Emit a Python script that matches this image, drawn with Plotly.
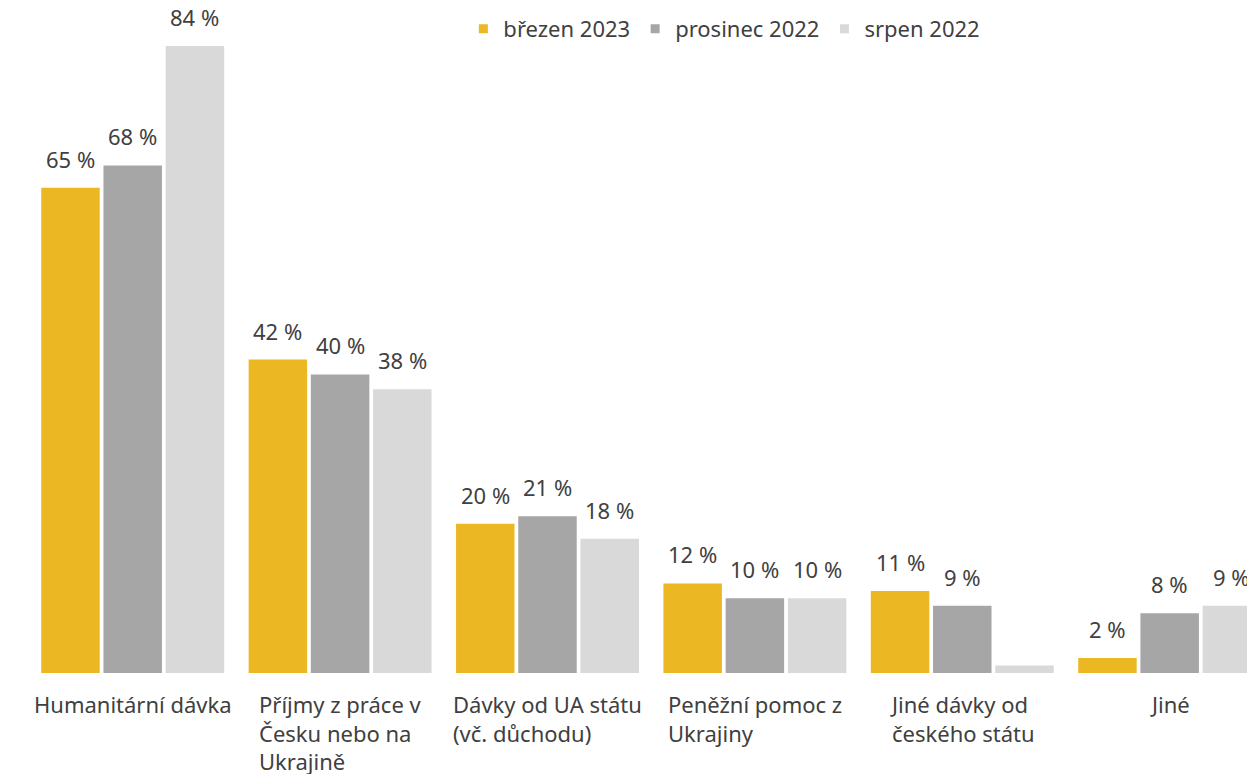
import plotly.graph_objects as go

categories = ["Humanitární dávka",
              "Příjmy z práce v<br>Česku nebo na<br>Ukrajině",
              "Dávky od UA státu<br>(vč. důchodu)",
              "Peněžní pomoc z<br>Ukrajiny",
              "Jiné dávky od<br>českého státu",
              "Jiné"]
series_names = ["březen 2023", "prosinec 2022", "srpen 2022"]
brezen_2023 = [65, 42, 20, 12, 11, 2]
prosinec_2022 = [68, 40, 21, 10, 9, 8]
srpen_2022 = [84, 38, 18, 10, 1, 9]
show_label = [[True] * 6, [True] * 6, [True, True, True, True, False, True]]

colors = ["#EBB824", "#A6A6A6", "#D9D9D9"]
font_family = "Noto Sans"
text_color = "#404040"
fs = 22
bargap = 0.1
bar_slot = (1 - bargap) / 3

x_idx = list(range(len(categories)))
fig = go.Figure()
for k, (name, vals) in enumerate(zip(series_names, [brezen_2023, prosinec_2022, srpen_2022])):
    fig.add_trace(go.Bar(
        x=x_idx, y=vals, name=name, marker_color=colors[k],
        marker_line_width=0, showlegend=False,
    ))
    # small square legend markers
    fig.add_trace(go.Scatter(
        x=[None], y=[None], mode="markers", name=name,
        marker=dict(symbol="square", size=9, color=colors[k]),
    ))
    # value labels above bars
    for i, v in enumerate(vals):
        if show_label[k][i]:
            fig.add_annotation(x=i + (k - 1) * bar_slot, y=v, text=f"{v} %", showarrow=False,
                               xanchor="center", yanchor="bottom", yshift=12,
                               font=dict(size=fs, color=text_color, family=font_family))

# category labels: centred block, left-aligned lines
for i, cat in enumerate(categories):
    fig.add_annotation(x=i, y=0, yref="y", xref="x", text=cat, showarrow=False,
                       xanchor="center", yanchor="top", align="left", yshift=-14,
                       font=dict(size=fs, color=text_color, family=font_family))

fig.update_layout(
    width=1255, height=774,
    margin=dict(l=21, r=0, t=33, b=109, autoexpand=False),
    plot_bgcolor="white", paper_bgcolor="white",
    barmode="group", bargap=bargap, bargroupgap=0.06,
    font=dict(family=font_family, color=text_color, size=fs),
    showlegend=True,
    legend=dict(orientation="h", x=0.352, xanchor="left",
                yref="container", y=1.0, yanchor="top",
                font=dict(size=fs, color=text_color), itemwidth=30,
                tracegroupgap=0, traceorder="normal"),
    xaxis=dict(range=[-0.5, 5.45], showticklabels=False, showgrid=False,
               zeroline=False, showline=False, ticks=""),
    yaxis=dict(range=[0, 84.67], showticklabels=False, showgrid=False,
               zeroline=False, showline=False, ticks=""),
)

fig.write_html("out.html")
